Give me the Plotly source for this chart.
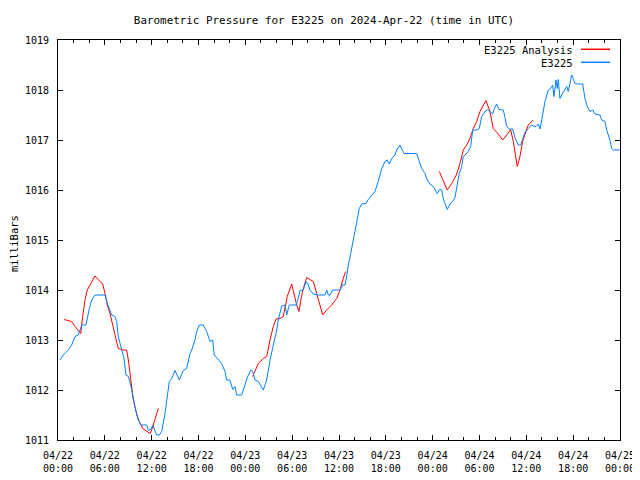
import datetime as dt
import plotly.graph_objects as go

# ---- data (hours after 2024-04-22 00:00 UTC, pressure in mbar) ----
station_hours = [0.26, 0.68, 1.32, 1.75, 2.18, 2.6, 3.04, 3.59, 4.01, 4.32, 4.74, 6.02, 6.32, 6.66, 6.88,
                 7.3, 7.52, 7.72, 8.16, 8.46, 8.71, 9.01, 9.31, 9.57, 9.86, 10.16, 10.5, 10.72, 11.36, 11.57,
                 11.88, 12.13, 12.43, 12.64, 12.98, 13.28, 13.71, 14.0, 14.26, 14.57, 14.99, 15.54, 16.05,
                 16.49, 16.91, 17.13, 17.55, 17.77, 18.1, 18.61, 19.05, 19.47, 19.82, 20.02, 20.54, 20.97,
                 21.39, 21.61, 22.03, 22.38, 22.67, 22.89, 23.53, 23.96, 24.3, 24.72, 24.94, 25.24, 25.66,
                 26.3, 26.74, 27.16, 27.58, 28.02, 28.22, 28.66, 29.08, 29.3, 29.63, 30.49, 30.78, 31.0,
                 31.42, 31.77, 32.07, 32.28, 32.71, 33.35, 34.2, 34.42, 34.63, 34.85, 35.19, 36.13, 36.47,
                 36.77, 36.98, 37.19, 37.5, 37.83, 38.27, 38.6, 38.91, 39.46, 39.75, 40.19, 40.61, 41.03,
                 41.47, 41.89, 42.19, 42.44, 42.75, 43.17, 43.39, 43.81, 44.03, 44.32, 45.95, 46.28, 46.59,
                 47.02, 47.31, 47.66, 48.08, 48.59, 48.85, 49.16, 49.36, 49.58, 49.87, 50.22, 50.56, 50.86,
                 51.15, 51.41, 51.72, 51.92, 52.27, 52.56, 52.87, 53.13, 53.64, 53.97, 54.28, 54.7, 55.05,
                 55.34, 55.69, 55.86, 56.2, 56.5, 57.05, 57.27, 57.48, 57.82, 58.23, 58.54, 58.97, 59.27,
                 59.53, 59.82, 60.25, 60.68, 60.89, 61.24, 61.53, 61.75, 61.97, 62.17, 62.39, 62.81, 63.12,
                 63.37, 63.54, 63.8, 63.96, 64.09, 64.31, 64.52, 64.95, 65.17, 65.37, 65.59, 65.81, 66.01,
                 66.23, 66.65, 67.22, 67.51, 67.81, 68.15, 68.5, 68.79, 69.43, 69.65, 70.07, 70.29, 70.71,
                 70.93, 71.14, 72.0]
station_mbar = [1012.6, 1012.7, 1012.8, 1012.9, 1013.07, 1013.1, 1013.3, 1013.3, 1013.63, 1013.8, 1013.9,
                1013.9, 1013.73, 1013.6, 1013.5, 1013.47, 1013.37, 1013.07, 1012.83, 1012.63, 1012.3,
                1012.27, 1012.1, 1011.87, 1011.67, 1011.47, 1011.33, 1011.3, 1011.3, 1011.2, 1011.2,
                1011.3, 1011.2, 1011.1, 1011.1, 1011.17, 1011.53, 1011.93, 1012.17, 1012.23, 1012.39,
                1012.2, 1012.39, 1012.43, 1012.73, 1012.8, 1013.0, 1013.17, 1013.3, 1013.3, 1013.17,
                1012.97, 1013.0, 1012.7, 1012.6, 1012.53, 1012.37, 1012.2, 1012.2, 1012.01, 1012.07,
                1011.9, 1011.9, 1012.13, 1012.27, 1012.4, 1012.37, 1012.2, 1012.17, 1012.0, 1012.2,
                1012.6, 1012.87, 1013.2, 1013.4, 1013.68, 1013.7, 1013.5, 1013.7, 1013.7, 1013.83,
                1013.99, 1014.0, 1014.17, 1014.1, 1014.0, 1013.92, 1013.9, 1013.9, 1014.0, 1013.9,
                1013.9, 1014.0, 1014.0, 1014.1, 1014.1, 1014.27, 1014.5, 1014.73, 1015.0, 1015.33,
                1015.63, 1015.72, 1015.73, 1015.81, 1015.9, 1015.97, 1016.17, 1016.43, 1016.57, 1016.6,
                1016.52, 1016.63, 1016.7, 1016.8, 1016.9, 1016.83, 1016.73, 1016.73, 1016.57, 1016.43,
                1016.33, 1016.2, 1016.12, 1016.07, 1015.93, 1016.01, 1016.0, 1015.83, 1015.73, 1015.61,
                1015.72, 1015.77, 1015.85, 1016.07, 1016.33, 1016.47, 1016.67, 1016.72, 1016.77, 1016.87,
                1017.2, 1017.2, 1017.23, 1017.47, 1017.57, 1017.61, 1017.57, 1017.52, 1017.61, 1017.72,
                1017.61, 1017.6, 1017.45, 1017.28, 1017.22, 1017.22, 1017.05, 1016.9, 1016.9, 1017.0,
                1017.15, 1017.23, 1017.3, 1017.28, 1017.27, 1017.32, 1017.22, 1017.4, 1017.57, 1017.77,
                1018.0, 1018.03, 1018.1, 1017.87, 1018.2, 1018.03, 1018.21, 1017.83, 1017.9, 1018.0,
                1018.07, 1017.97, 1018.13, 1018.3, 1018.23, 1018.13, 1018.12, 1018.12, 1017.83, 1017.67,
                1017.57, 1017.6, 1017.52, 1017.5, 1017.4, 1017.37, 1017.2, 1017.0, 1016.83, 1016.8,
                1016.8]

analysis_hours = [0.77, 1.32, 1.75, 2.18, 2.6, 2.91, 3.16, 3.46, 3.75, 4.1, 4.45, 4.74, 5.16, 5.73, 6.02,
                  6.32, 6.66, 7.01, 7.3, 7.72, 8.37, 8.8, 9.01, 9.31, 9.65, 9.99, 10.29, 10.85, 11.36,
                  11.79, 12.0, 12.43, 12.85, None,
                  24.94, 25.66, 26.3, 26.74, 27.16, 27.58, 27.93, 28.44, 28.86, 29.37, 29.94, 30.36,
                  30.58, 30.87, 31.22, 31.51, 31.86, 32.28, 32.71, 33.14, 33.56, 33.91, 34.42, 35.06,
                  35.7, 36.13, 36.47, 36.86, None,
                  48.85, 49.36, 49.87, 50.44, 51.03, 51.5, 51.92, 52.36, 52.78, 53.2, 53.64, 54.06,
                  54.48, 54.83, 55.34, 55.76, 56.4, 56.97, 57.48, 57.99, 58.33, 58.54, 58.84, 59.18,
                  59.53, 59.95, 60.25, 60.89]
analysis_mbar = [1013.41, 1013.39, 1013.37, 1013.27, 1013.2, 1013.13, 1013.47, 1013.8, 1014.0, 1014.1,
                 1014.19, 1014.28, 1014.21, 1014.12, 1013.93, 1013.7, 1013.53, 1013.3, 1013.1, 1012.83,
                 1012.8, 1012.8, 1012.6, 1012.27, 1011.8, 1011.57, 1011.41, 1011.23, 1011.17, 1011.13,
                 1011.2, 1011.43, 1011.63, None,
                 1012.27, 1012.53, 1012.63, 1012.67, 1013.0, 1013.27, 1013.42, 1013.43, 1013.47,
                 1013.87, 1014.12, 1013.8, 1013.7, 1013.57, 1013.9, 1014.07, 1014.25, 1014.21, 1014.17,
                 1013.93, 1013.7, 1013.5, 1013.6, 1013.7, 1013.83, 1014.0, 1014.2, 1014.37, None,
                 1016.37, 1016.2, 1016.0, 1016.13, 1016.3, 1016.53, 1016.8, 1016.9, 1017.03, 1017.23,
                 1017.37, 1017.57, 1017.68, 1017.79, 1017.57, 1017.23, 1017.12, 1017.0, 1017.1, 1017.21,
                 1016.97, 1016.73, 1016.47, 1016.67, 1016.97, 1017.17, 1017.3, 1017.4]

series_names = ["E3225 Analysis", "E3225"]
series_colors = ["#ff0000", "#0080ff"]
title_text = "Barometric Pressure for E3225 on 2024-Apr-22 (time in UTC)"
y_label = "milliBars"

base = dt.datetime(2024, 4, 22, 0, 0)


def to_time(hours):
    return [base + dt.timedelta(hours=h) if h is not None else None for h in hours]


FONT = "DejaVu Sans Mono"

fig = go.Figure()
fig.add_trace(go.Scatter(x=to_time(analysis_hours), y=analysis_mbar, mode="lines",
                         name=series_names[0], line=dict(color=series_colors[0], width=1),
                         connectgaps=False, showlegend=False))
fig.add_trace(go.Scatter(x=to_time(station_hours), y=station_mbar, mode="lines",
                         name=series_names[1], line=dict(color=series_colors[1], width=1),
                         showlegend=False))

# The page places the figure 8 px from the window's top-left corner, so the
# figure is sized to fit in the window and laid out in window pixels minus that offset.
OFF = 8
W, H = 640 - OFF, 480 - OFF
PLOT_LEFT, PLOT_RIGHT, PLOT_TOP, PLOT_BOTTOM = 58, 620, 40, 440  # window pixels
L = PLOT_LEFT - OFF
R = W - (PLOT_RIGHT - OFF)
T = PLOT_TOP - OFF
B = H - (PLOT_BOTTOM - OFF)
pw, ph = W - L - R, H - T - B


def px(xp):
    return (xp - OFF - L) / pw


def py(yp):
    return (H - B - (yp - OFF)) / ph


# legend (gnuplot style: text right, sample line at right)
legend_rows = [(50, series_names[0], series_colors[0]), (63, series_names[1], series_colors[1])]
shapes = []
annotations = []
for yp, name, col in legend_rows:
    annotations.append(dict(x=px(575), y=py(yp), xref="paper", yref="paper", text=name,
                            showarrow=False, xanchor="right", yanchor="middle",
                            font=dict(family=FONT, size=10.5, color="black")))
    shapes.append(dict(type="line", xref="paper", yref="paper", x0=px(581), x1=px(610),
                       y0=py(yp - 0.7), y1=py(yp - 0.7), line=dict(color=col, width=1.5)))

annotations.append(dict(x=px(14), y=py(244), xref="paper", yref="paper", text=y_label, textangle=-90,
                        showarrow=False, xanchor="center", yanchor="middle",
                        font=dict(family=FONT, size=10.5, color="black")))

fig.update_layout(
    width=W, height=H,
    margin=dict(l=L, r=R, t=T, b=B, pad=0, autoexpand=False),
    paper_bgcolor="white", plot_bgcolor="white",
    font=dict(family=FONT, size=10, color="black"),
    title=dict(text=title_text, x=(324 - OFF) / W, xanchor="center", y=1 - (20 - OFF) / H,
               yanchor="middle", font=dict(family=FONT, size=10.9, color="black")),
    shapes=shapes, annotations=annotations,
    showlegend=False,
)

fig.update_xaxes(
    type="date", automargin=False,
    range=[base, base + dt.timedelta(hours=72)],
    tickmode="linear", tick0=base, dtick=6 * 3600 * 1000,
    tickformat="%m/%d<br>%H:%M",
    ticks="inside", ticklen=5, tickcolor="black", tickwidth=1,
    minor=dict(dtick=2 * 3600 * 1000, tick0=base, ticks="inside", ticklen=3,
               tickcolor="black", tickwidth=1, showgrid=False),
    showline=True, linecolor="black", linewidth=1, mirror="ticks",
    showgrid=False, zeroline=False,
    tickfont=dict(family=FONT, size=10),
    ticklabelstandoff=6,
)
fig.update_yaxes(
    range=[1011, 1019], tickmode="linear", tick0=1011, dtick=1, automargin=False,
    ticks="inside", ticklen=5, tickcolor="black", tickwidth=1,
    showline=True, linecolor="black", linewidth=1, mirror="ticks",
    showgrid=False, zeroline=False,
    tickfont=dict(family=FONT, size=10),
    ticklabelstandoff=6,
)

fig.write_html("out.html")
